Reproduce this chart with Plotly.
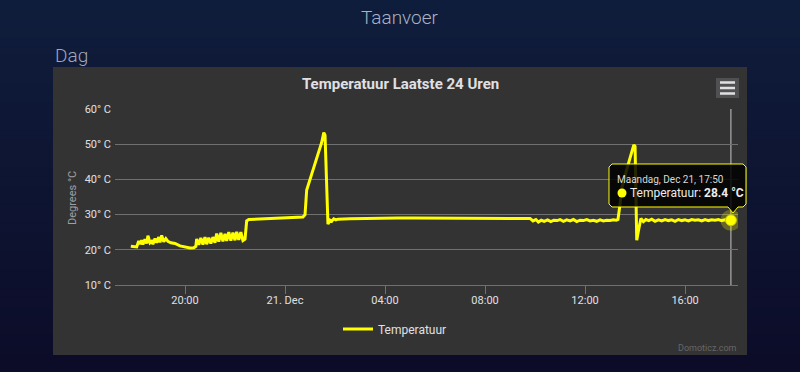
import plotly.graph_objects as go
from datetime import datetime, timedelta

# ---------------- data ----------------
start_time = "2020-12-20 17:50"
minutes = [0, 7, 14, 19, 22, 26, 29, 34, 38, 41, 46, 50, 53, 58, 62, 67, 70, 74, 79, 84,
           89, 96, 106, 118, 130, 142, 151, 156, 158, 163, 168, 173, 178, 182, 187, 192,
           197, 202, 206, 211, 216, 221, 226, 230, 235, 240, 245, 250, 254, 259, 264, 269,
           274, 278, 283, 298, 322, 346, 370, 394, 413, 418, 422, 434, 446, 458, 463, 466,
           473, 478, 482, 487, 492, 497, 526, 560, 600, 640, 680, 720, 760, 800, 840, 880,
           920, 958, 965, 972, 978, 985, 992, 1000, 1008, 1015, 1023, 1030, 1038, 1046,
           1054, 1062, 1070, 1078, 1086, 1094, 1102, 1110, 1118, 1126, 1134, 1142, 1150,
           1158, 1165, 1169, 1174, 1178, 1188, 1198, 1207, 1210, 1214, 1219, 1224, 1230,
           1236, 1243, 1250, 1258, 1266, 1274, 1282, 1290, 1298, 1306, 1314, 1322, 1330,
           1338, 1346, 1354, 1362, 1370, 1378, 1386, 1394, 1402, 1410, 1418, 1426, 1434, 1440]
temps = [21.0, 20.9, 20.8, 22.5, 21.6, 22.7, 21.5, 23.0, 21.8, 24.0, 22.0, 22.4, 21.6, 23.2,
         22.0, 23.6, 22.1, 24.1, 22.3, 23.2, 22.4, 22.0, 21.8, 21.1, 20.7, 20.5, 20.6, 21.0,
         23.1, 21.4, 23.4, 21.5, 23.6, 21.6, 23.4, 21.8, 23.6, 22.0, 24.6, 22.3, 24.8, 22.4,
         24.5, 22.5, 25.0, 22.6, 24.9, 22.7, 25.1, 22.8, 25.0, 22.6, 23.0, 28.2, 28.6, 28.7,
         28.9, 29.0, 29.1, 29.2, 29.3, 30.0, 37.0, 41.5, 46.0, 50.5, 53.3, 52.6, 27.3, 28.4,
         28.1, 28.8, 28.5, 28.7, 28.8, 28.9, 29.0, 29.0, 29.0, 29.0, 29.1, 29.0, 29.0, 29.0,
         28.9, 28.9, 28.2, 28.6, 27.9, 28.4, 28.1, 28.5, 28.0, 28.4, 28.3, 28.6, 28.1, 28.5,
         28.2, 28.6, 28.0, 28.4, 28.3, 28.6, 28.2, 28.4, 28.1, 28.5, 28.2, 28.4, 28.3, 28.5,
         28.4, 28.6, 33.0, 37.5, 42.0, 46.0, 49.8, 49.4, 22.7, 26.0, 28.9, 28.0, 28.6, 28.3,
         28.7, 28.1, 28.5, 28.2, 28.6, 28.3, 28.5, 28.1, 28.6, 28.3, 28.5, 28.2, 28.6, 28.4,
         28.5, 28.2, 28.6, 28.3, 28.5, 28.4, 28.6, 28.3, 28.5, 28.4, 28.4]
series_name = "Temperatuur"
y_ticks = [10, 20, 30, 40, 50, 60]
y_tick_labels = ["10° C", "20° C", "30° C", "40° C", "50° C", "60° C"]
x_tick_times = ["2020-12-20 20:00", "2020-12-21 00:00", "2020-12-21 04:00",
                "2020-12-21 08:00", "2020-12-21 12:00", "2020-12-21 16:00"]
x_tick_labels = ["20:00", "21. Dec", "04:00", "08:00", "12:00", "16:00"]
page_title = "Taanvoer"
section_title = "Dag"
chart_title = "Temperatuur Laatste 24 Uren"
y_title = "Degrees °C"
credit_text = "Domoticz.com"
day_names = ["Maandag", "Dinsdag", "Woensdag", "Donderdag", "Vrijdag", "Zaterdag", "Zondag"]

# ---------------- helpers ----------------
W, H = 800, 372
def fx(px):
    return px / W
def fy(py):
    return 1 - py / H

base = datetime.strptime(start_time, "%Y-%m-%d %H:%M")
times = [base + timedelta(minutes=m) for m in minutes]
x_range = [base - timedelta(minutes=38), base + timedelta(minutes=1457)]

FONT = "Roboto"
YELLOW = "#ffff00"
GRID = "#707073"
LABEL = "#e0e0e3"

fig = go.Figure()
fig.add_trace(go.Scatter(x=times, y=temps, mode="lines", name=series_name,
                         line=dict(color=YELLOW, width=3), hoverinfo="skip"))
fig.add_trace(go.Scatter(x=[times[-1]], y=[temps[-1]], mode="markers", showlegend=False,
                         marker=dict(size=21, color="rgba(255,255,0,0.25)"), hoverinfo="skip"))
fig.add_trace(go.Scatter(x=[times[-1]], y=[temps[-1]], mode="markers", showlegend=False,
                         marker=dict(size=11, color=YELLOW, line=dict(width=1, color="#c8c800")),
                         hoverinfo="skip"))

shapes = []
# page gradient background
n = 40
top_c, bot_c = (15, 29, 60), (12, 12, 40)
for i in range(n):
    t = i / (n - 1)
    c = tuple(round(top_c[k] + (bot_c[k] - top_c[k]) * t) for k in range(3))
    shapes.append(dict(type="rect", xref="paper", yref="paper", x0=0, x1=1,
                       y0=1 - (i + 1) / n - 0.002, y1=1 - i / n,
                       fillcolor="rgb(%d,%d,%d)" % c, line=dict(width=0), layer="below"))
# chart panel
shapes.append(dict(type="rect", xref="paper", yref="paper", x0=fx(53), x1=fx(747),
                   y0=fy(355), y1=fy(67), fillcolor="#333334", line=dict(width=0), layer="below"))
# menu button
shapes.append(dict(type="rect", xref="paper", yref="paper", x0=fx(716), x1=fx(739),
                   y0=fy(98), y1=fy(78), fillcolor="#505053", line=dict(width=0), layer="above"))
for yy in (82.5, 88, 93.5):
    shapes.append(dict(type="line", xref="paper", yref="paper", x0=fx(720), x1=fx(735),
                       y0=fy(yy), y1=fy(yy), line=dict(color=LABEL, width=2.5), layer="above"))
# crosshair
shapes.append(dict(type="line", xref="x", yref="paper", x0=times[-1], x1=times[-1],
                   y0=fy(285), y1=fy(109), line=dict(color="#c8c8c8", width=1), layer="between"))
# tooltip callout
pts = [(612, 164), (743, 164), (746, 167), (746, 204), (743, 207), (738, 207), (733, 213),
       (728, 207), (612, 207), (609, 204), (609, 167)]
path = "M " + " L ".join("%.5f,%.5f" % (fx(a), fy(b)) for a, b in pts) + " Z"
shapes.append(dict(type="path", xref="paper", yref="paper", path=path,
                   fillcolor="rgba(0,0,0,0.85)", line=dict(color=YELLOW, width=1), layer="above"))
# tooltip series dot
shapes.append(dict(type="circle", xref="paper", yref="paper", x0=fx(617.5), x1=fx(626.5),
                   y0=fy(197.5), y1=fy(188.5), fillcolor=YELLOW, line=dict(width=0),
                   layer="above"))

last = times[-1]
tooltip_date = "%s, %s %d, %s" % (day_names[last.weekday()], last.strftime("%b"), last.day,
                                   last.strftime("%H:%M"))
annotations = [
    dict(text=page_title, x=fx(400), y=fy(18), xanchor="center", yanchor="middle",
         font=dict(family=FONT, size=19, color="#a9b3c5", weight=300)),
    dict(text=section_title, x=fx(53), y=fy(56), xanchor="left", yanchor="middle",
         font=dict(family=FONT, size=19, color="#a0a8bb", weight=300)),
    dict(text="<b>%s</b>" % chart_title, x=fx(400), y=fy(84), xanchor="center", yanchor="middle",
         font=dict(family=FONT, size=15, color=LABEL)),
    dict(text=y_title, x=fx(72), y=fy(198), xanchor="center", yanchor="middle",
         textangle=-90, font=dict(family=FONT, size=11, color="#a0a0a3")),
    dict(text=tooltip_date, x=fx(615), y=fy(179), xanchor="left", yanchor="middle",
         font=dict(family=FONT, size=10, color="#d8d8d8")),
    dict(text="%s: <b>%.1f °C</b>" % (series_name, temps[-1]),
         x=fx(628), y=fy(193), xanchor="left", yanchor="middle",
         font=dict(family=FONT, size=12, color="#ececec")),
    dict(text=credit_text, x=fx(739), y=fy(348), xanchor="right", yanchor="middle",
         font=dict(family=FONT, size=9, color="#666666")),
]
for a in annotations:
    a.update(xref="paper", yref="paper", showarrow=False)

fig.update_layout(
    width=W, height=H,
    margin=dict(l=0, r=0, t=0, b=0, autoexpand=False),
    paper_bgcolor="rgb(13,20,50)",
    plot_bgcolor="rgba(0,0,0,0)",
    font=dict(family=FONT, color=LABEL, size=11),
    hovermode=False,
    shapes=shapes,
    annotations=annotations,
    showlegend=True,
    legend=dict(orientation="h", x=fx(395), xanchor="center", y=fy(329), yanchor="middle",
                bgcolor="rgba(0,0,0,0)", font=dict(family=FONT, size=12, color=LABEL),
                itemwidth=30),
    xaxis=dict(domain=[fx(115), fx(738)], range=x_range, type="date", automargin=False,
               tickvals=x_tick_times, ticktext=x_tick_labels, showgrid=False,
               showline=True, linecolor=GRID, linewidth=1, ticks="outside", ticklen=8,
               tickcolor=GRID, zeroline=False, ticklabelstandoff=-3,
               tickfont=dict(family=FONT, size=11, color=LABEL)),
    yaxis=dict(domain=[fy(285), fy(109)], range=[10, 60], tickvals=y_ticks, automargin=False,
               ticktext=y_tick_labels, showgrid=True, gridcolor=GRID, gridwidth=1,
               showline=False, zeroline=False, ticks="", ticklabelstandoff=3,
               tickfont=dict(family=FONT, size=11, color=LABEL)),
)

fig.write_html("out.html", config={"displayModeBar": False},
               post_script="document.body.style.margin='0';document.body.style.overflow='hidden';")
